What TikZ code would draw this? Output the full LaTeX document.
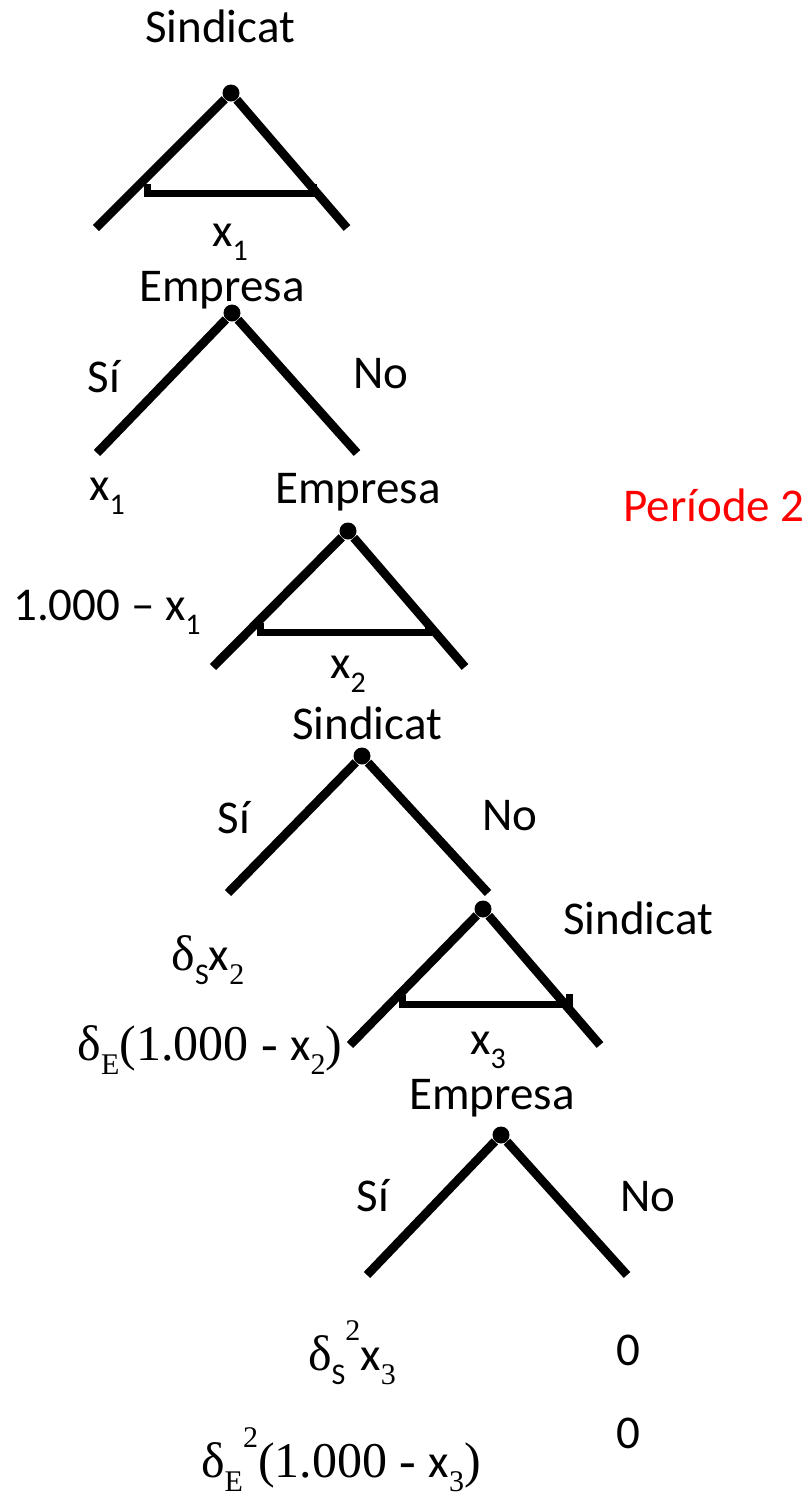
\documentclass[tikz,border=0pt]{standalone}
\usepackage{fontspec}
\setmainfont{Carlito}
\newfontfamily\tms{Liberation Serif}
\usetikzlibrary{positioning}
\definecolor{treeInk}{HTML}{000000}
\definecolor{periodRed}{HTML}{FF0000}
\newcommand{\lowsub}[1]{\raisebox{-7pt}{\fontsize{15}{15}\selectfont #1}}
\newcommand{\highsup}[1]{\raisebox{15pt}{\fontsize{15}{15}\selectfont\tms #1}}
\newcommand{\serif}[1]{{\fontsize{25}{28}\selectfont\tms #1}}
\tikzset{
  every picture/.style={font=\fontsize{23.5}{28}\selectfont, text=treeInk},
  tree dot/.style={circle, fill=treeInk, inner sep=0pt, minimum size=8.5pt},
  tree branch/.style={draw=treeInk, line width=4.4pt},
  offer bar/.style={draw=treeInk, line width=3.5pt},
  tree label/.style={anchor=base, inner sep=0pt},
  period label/.style={anchor=base, inner sep=0pt, text=periodRed}
}

\begin{document}
\begin{tikzpicture}[x=0.5pt,y=-0.5pt]
  \useasboundingbox (0,0) rectangle (810,1501);

  % 1: Sindicat proposa x_1
  \node[tree dot] (s1) at (231,93) {};
  \node[tree label] (s1name) at (220,42) {Sindicat};
  \coordinate (s1l) at (96,228);
  \coordinate (s1r) at (347,228);
  \draw[tree branch] (s1l) -- (s1) -- (s1r);
  \draw[offer bar] (147,184) |- (313,193) -- (313,184);
  \node[tree label] (x1) at (230,246) {x\lowsub{1}};

  % 2: Empresa accepta o no
  \node[tree dot] (e1) at (232,313) {};
  \node[tree label] (e1name) at (222,301) {Empresa};
  \coordinate (e1l) at (97,453);
  \coordinate (e1r) at (357,453);
  \draw[tree branch] (e1l) -- (e1) -- (e1r);
  \node[tree label] (e1yes) at (104,392) {Sí};
  \node[tree label] (e1no) at (381,388) {No};
  \node[tree label] (pay1a) at (107,500) {x\lowsub{1}};
  \node[tree label] (pay1b) at (107,620) {1.000 – x\lowsub{1}};

  % 3: Empresa proposa x_2
  \node[tree dot] (e2) at (348,531) {};
  \node[tree label] (e2name) at (358,503) {Empresa};
  \node[period label] (period) at (714,521) {Període 2};
  \coordinate (e2l) at (213,667);
  \coordinate (e2r) at (465,667);
  \draw[tree branch] (e2l) -- (e2) -- (e2r);
  \draw[offer bar] (260,623) |- (428,632) -- (428,623);
  \node[tree label] (x2) at (348,678) {x\lowsub{2}};

  % 4: Sindicat accepta o no
  \node[tree dot] (s2) at (362,756) {};
  \node[tree label] (s2name) at (367,739) {Sindicat};
  \coordinate (s2l) at (228,893);
  \coordinate (s2r) at (488,893);
  \draw[tree branch] (s2l) -- (s2) -- (s2r);
  \node[tree label] (s2yes) at (234,833) {Sí};
  \node[tree label] (s2no) at (510,830) {No};
  \node[tree label] (pay2a) at (208,970) {\serif{δ}\lowsub{S}x\lowsub{\tms 2}};
  \node[tree label] (pay2b) at (210,1060) {\serif{δ}\lowsub{\tms E}\serif{(1.000 - }x\lowsub{\tms 2}\serif{)}};

  % 5: Sindicat proposa x_3
  \node[tree dot] (s3) at (483,909) {};
  \node[tree label] (s3name) at (638,934) {Sindicat};
  \coordinate (s3l) at (350,1045);
  \coordinate (s3r) at (600,1045);
  \draw[tree branch] (s3l) -- (s3) -- (s3r);
  \draw[offer bar] (402,995) |- (569,1004) -- (569,994);
  \node[tree label] (x3) at (488,1054) {x\lowsub{3}};

  % 6: Empresa accepta o no
  \node[tree dot] (e3) at (501,1135) {};
  \node[tree label] (e3name) at (492,1109) {Empresa};
  \coordinate (e3l) at (367,1275);
  \coordinate (e3r) at (627,1275);
  \draw[tree branch] (e3l) -- (e3) -- (e3r);
  \node[tree label] (e3yes) at (373,1211) {Sí};
  \node[tree label] (e3no) at (648,1211) {No};
  \node[tree label] (pay3a) at (352,1370) {\serif{δ}\lowsub{S}\highsup{2}x\lowsub{\tms 3}};
  \node[tree label] (pay3b) at (628,1365) {0};
  \node[tree label] (pay3c) at (628,1448) {0};
  \node[tree label] (pay3d) at (341,1477) {\serif{δ}\lowsub{\tms E}\highsup{2}\serif{(1.000 - }x\lowsub{\tms 3}\serif{)}};
\end{tikzpicture}
\end{document}
